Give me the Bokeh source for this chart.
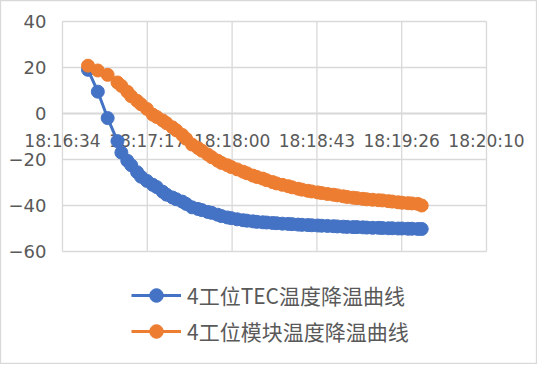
from bokeh.plotting import figure
from bokeh.models import FixedTicker, Legend, LegendItem, ColumnDataSource, Range1d
from bokeh.embed import file_html
from bokeh.resources import INLINE

# x axis: seconds elapsed since 18:16:34
x_ticks_s = [0, 43.2, 86.4, 129.6, 172.8, 216]
x_tick_labels = ["18:16:34", "18:17:17", "18:18:00", "18:18:43", "18:19:26", "18:20:10"]
y_ticks = [-60, -40, -20, 0, 20, 40]

series_names = ["4工位TEC温度降温曲线", "4工位模块温度降温曲线"]

elapsed_s = [13, 18, 23, 28, 30, 33, 35, 38, 40, 43, 46, 48, 51, 53, 56, 58, 61, 63, 66, 69,
             71, 74, 76, 79, 81, 84, 86, 89, 92, 94, 97, 99, 102, 104, 107, 109, 112, 115, 117, 120,
             122, 125, 127, 130, 132, 135, 138, 140, 143, 145, 148, 150, 153, 155, 158, 161, 163, 166, 168, 171,
             173, 176, 178, 181, 183]

tec_temp = [19, 9.5, -2, -12, -17, -20.5, -22.5, -25.5, -27.5, -29.3, -31, -32, -34, -35.3, -36.5, -37.3, -38.3, -39.3, -40.8, -41.5,
            -42, -42.8, -43.2, -44, -44.6, -45.2, -45.5, -46, -46.4, -46.6, -46.9, -47.1, -47.3, -47.4, -47.6, -47.7, -47.9, -48, -48.1, -48.3,
            -48.4, -48.5, -48.6, -48.7, -48.8, -48.9, -49, -49.1, -49.2, -49.3, -49.4, -49.4, -49.5, -49.6, -49.7, -49.7, -49.8, -49.9, -49.9, -50,
            -50, -50.1, -50.1, -50.2, -50.2]

module_temp = [20.8, 18.7, 16.8, 13.5, 12, 9.5, 7.5, 5.5, 4, 2, -0.5, -1.5, -3, -4.2, -6, -7.3, -9.3, -11, -13.5, -15,
               -16.2, -17.8, -19, -20.5, -21.5, -22.5, -23.3, -24.3, -25.3, -26, -27, -27.6, -28.3, -29, -29.8, -30.4, -31, -31.6, -32.1, -32.7,
               -33.1, -33.6, -33.9, -34.3, -34.6, -35, -35.3, -35.6, -36, -36.3, -36.6, -36.8, -37.1, -37.3, -37.5, -37.7, -37.8, -38.1, -38.3, -38.6,
               -38.8, -39, -39.1, -39.3, -40]

colors = ["#4472C4", "#ED7D31"]
label_color = "#595959"
grid_color = "#d9d9d9"

# layout (pixels): figure size and plot-area box inside it
W, H = 537, 364
PL, PR, PT, PB = 62, 486, 21, 251
xs = (x_ticks_s[-1] - x_ticks_s[0]) / (PR - PL)
ys = (y_ticks[-1] - y_ticks[0]) / (PB - PT)
x_range = Range1d(x_ticks_s[0] - PL * xs, x_ticks_s[-1] + (W - PR) * xs)
y_range = Range1d(y_ticks[0] - (H - PB) * ys, y_ticks[-1] + PT * ys)

src = ColumnDataSource(data=dict(t=elapsed_s, tec=tec_temp, mod=module_temp))

p = figure(width=W, height=H, output_backend="svg", toolbar_location=None,
           x_range=x_range, y_range=y_range,
           min_border_left=0, min_border_right=0, min_border_top=0, min_border_bottom=0)
p.outline_line_color = grid_color
p.outline_line_width = 1.3
p.background_fill_color = "white"
p.border_fill_color = "white"
p.xgrid.grid_line_color = None
p.ygrid.grid_line_color = None

# gridlines bounded to the plot area
nx, ny = len(x_ticks_s), len(y_ticks)
p.segment(x0=x_ticks_s, x1=x_ticks_s, y0=[y_ticks[0]] * nx, y1=[y_ticks[-1]] * nx,
          line_color=grid_color, line_width=1.3)
p.segment(x0=[x_ticks_s[0]] * ny, x1=[x_ticks_s[-1]] * ny, y0=y_ticks, y1=y_ticks,
          line_color=grid_color, line_width=1.3)

# axes
p.xaxis.ticker = FixedTicker(ticks=x_ticks_s)
p.xaxis.major_label_overrides = {t: lab for t, lab in zip(x_ticks_s, x_tick_labels)}
p.xaxis.fixed_location = 0
p.xaxis.bounds = (x_ticks_s[0], x_ticks_s[-1])
p.xaxis.axis_line_color = "#bfbfbf"
p.xaxis.axis_line_width = 1.3
p.xaxis.major_tick_line_color = None
p.xaxis.minor_tick_line_color = None
p.xaxis.major_tick_out = 0
p.xaxis.major_tick_in = 0
p.xaxis.major_label_standoff = 17
p.xaxis.major_label_text_font = "DejaVu Sans"
p.xaxis.major_label_text_font_size = "17px"
p.xaxis.major_label_text_color = label_color
p.xaxis.level = "underlay"

p.yaxis.ticker = FixedTicker(ticks=y_ticks)
p.yaxis.fixed_location = x_ticks_s[0]
p.yaxis.bounds = (y_ticks[0], y_ticks[-1])
p.yaxis.axis_line_color = None
p.yaxis.major_tick_line_color = None
p.yaxis.minor_tick_line_color = None
p.yaxis.major_tick_out = 0
p.yaxis.major_tick_in = 0
p.yaxis.major_label_standoff = 16
p.yaxis.major_label_text_font = "DejaVu Sans"
p.yaxis.major_label_text_font_size = "18px"
p.yaxis.major_label_text_color = label_color

l1 = p.line("t", "tec", source=src, line_color=colors[0], line_width=3)
s1 = p.scatter("t", "tec", source=src, size=13, fill_color=colors[0], line_color=colors[0])
l2 = p.line("t", "mod", source=src, line_color=colors[1], line_width=3)
s2 = p.scatter("t", "mod", source=src, size=13, fill_color=colors[1], line_color=colors[1])

legend = Legend(items=[LegendItem(label=series_names[0], renderers=[l1, s1]),
                       LegendItem(label=series_names[1], renderers=[l2, s2])],
                location=(131, 16))
legend.border_line_color = None
legend.background_fill_alpha = 0
legend.padding = 0
legend.margin = 0
legend.glyph_width = 50
legend.glyph_height = 34
legend.spacing = 2
legend.label_standoff = 6
legend.label_text_font = "Noto Sans CJK SC"
legend.label_text_font_size = "21px"
legend.label_text_color = label_color
p.add_layout(legend)

open("out.html", "w").write(file_html(p, INLINE))
